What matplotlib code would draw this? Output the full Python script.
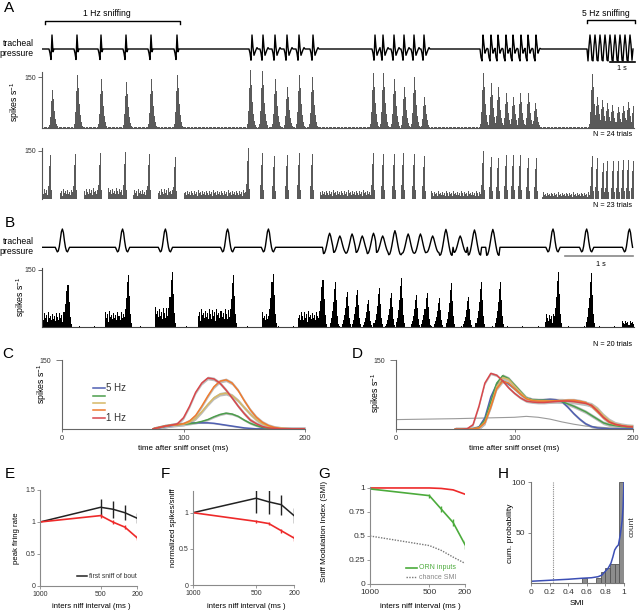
import matplotlib
matplotlib.use("Agg")
import matplotlib.pyplot as plt
import numpy as np

plt.rcParams['font.family'] = ['Liberation Sans', 'DejaVu Sans']
plt.rcParams['mathtext.default'] = 'regular'
plt.rcParams['axes.linewidth'] = 0.8

W, H = 640, 615

# ---------------- panel A: tracheal pressure (peak times, s) ----------------
A_SNIFF_1HZ = [0.40, 1.40, 2.36, 3.36, 4.36, 5.40]
A_SNIFF_2HZ = [8.40, 8.84, 9.32, 9.80, 10.28, 10.84]
A_SNIFF_3HZ = [13.32, 13.64, 14.08, 14.48, 14.88, 15.28]
A_SNIFF_4HZ = [17.64, 17.96, 18.24, 18.56, 18.84, 19.16, 19.44, 19.76]
A_SNIFF_5HZ = [21.92, 22.12, 22.32, 22.52, 22.72, 22.92, 23.12, 23.32, 23.52]
# waveform samples around each peak (0.04 s apart, peak at index 2)
A_WAVE_SLOW = [-0.3, -0.75, 1.0, -0.2, 0.0]
A_WAVE_MID = [-0.3, -0.8, 1.0, 0.1, -0.45, -0.25, -0.05, 0.1, 0.0]
A_WAVE_FAST = [-0.6, -0.85, 1.0, 0.3, -0.3, -0.1, 0.05]
A_WAVE_5HZ = [-0.85, 0.2, 1.0, 0.3, -0.8]

# panel A, PSTH cell 1 (spikes/s)
A1_PEAK_T = [0.40, 1.40, 2.36, 3.36, 4.36, 5.40,
             8.32, 8.80, 9.32, 9.80, 10.28, 10.80,
             13.24, 13.64, 14.08, 14.48, 14.88, 15.28,
             17.64, 17.96, 18.24, 18.56, 18.84, 19.12, 19.44, 19.72,
             22.00, 22.20, 22.40, 22.60, 22.80, 23.04, 23.24, 23.44, 23.64]
A1_PEAK_H = [113, 157, 145, 136, 146, 157,
             171, 168, 145, 122, 157, 152,
             163, 163, 145, 122, 150, 93,
             162, 132, 121, 103, 93, 103, 103, 74,
             161, 93, 83, 74, 69, 64, 66, 78, 66]
A1_SHAPE = [0.08, 0.3, 0.7, 1.0, 0.75, 0.45, 0.25, 0.12, 0.05]

# panel A, PSTH cell 2
A2_PEAK_T = [0.32, 1.32, 2.32, 3.32, 4.28, 5.32,
             8.24, 8.80, 9.28, 9.80, 10.28, 10.80,
             13.24, 13.64, 14.08, 14.44, 14.88, 15.28,
             17.64, 17.96, 18.24, 18.56, 18.84, 19.12, 19.44, 19.76,
             22.00, 22.20, 22.44, 22.60, 22.84, 23.04, 23.24, 23.44, 23.64]
A2_PEAK_H = [137, 140, 143, 146, 141, 131,
             158, 143, 133, 138, 143, 141,
             144, 141, 141, 143, 141, 133,
             150, 131, 128, 136, 136, 136, 128, 126,
             133, 126, 112, 117, 117, 117, 121, 121, 117]
A2_SHAPE = [0.3, 0.75, 1.0, 0.2]
A2_PLATEAUS = [(0.0, 0.25, 24), (0.7, 1.25, 22), (1.7, 2.25, 24), (2.65, 3.25, 25),
               (3.65, 4.2, 22), (4.65, 5.25, 24), (5.7, 8.15, 20), (11.1, 13.15, 20),
               (15.55, 17.55, 18), (20.0, 21.9, 15)]

# panel B
B_SNIFF_SLOW = [0.294, 1.191, 1.809, 2.735, 3.324, 7.515, 8.015, 8.647]
B_SNIFF_FAST = [4.235, 4.382, 4.559, 4.706, 4.868, 5.015, 5.191, 5.382, 5.559,
                5.750, 5.941, 6.147, 6.353, 6.632]
B_FAST_AMP = [0.77, 0.62, 0.73, 0.62, 0.77, 0.62, 0.91, 0.73, 0.73, 0.62, 0.98,
              0.62, 0.95, 0.98]
B_WAVE_SLOW = [0, -0.12, -0.25, -0.2, 0.05, 0.45, 0.85, 1.0, 0.8, 0.35, 0.0,
               -0.2, -0.25, -0.12, 0]
B_WAVE_FAST = [-0.45, -0.4, -0.2, 0.1, 0.45, 0.8, 1.0, 0.8, 0.45, 0.1, -0.2, -0.4, -0.45]

B_PEAK_T = [0.382, 1.265, 1.912, 2.809, 3.397,
            4.132, 4.309, 4.485, 4.632, 4.794, 4.956, 5.132, 5.279, 5.500, 5.662,
            5.838, 6.015, 6.265, 6.456, 6.735, 7.588, 8.074]
B_PEAK_H = [111, 138, 145, 136, 140,
            124, 119, 93, 98, 71, 102, 89, 128, 85, 89,
            76, 115, 80, 119, 119, 144, 141]
B_SHAPE = [0.1, 0.2, 0.35, 0.55, 0.85, 1.0, 0.6, 0.25, 0.08]
B_PLATEAUS = [(0.0, 0.34, 28), (0.93, 1.22, 30), (1.66, 1.85, 38), (2.29, 2.75, 35),
              (3.24, 3.35, 28), (3.76, 4.09, 30), (7.40, 7.54, 25), (8.53, 8.71, 12)]

TEXTURE = [1.0, 0.65, 1.3, 0.85, 1.15, 0.5, 1.4, 0.9, 1.1, 0.7, 1.25, 0.8, 1.05, 0.6, 1.35]

# ---------------- panels C, D: average sniff-triggered rates ----------------
C_LABELS = ['5 Hz', '', '', '', '1 Hz']
C_COLORS = ['#4f5fb3', '#4c9e4c', '#d6b866', '#f07b2e', '#d8474b']
T_C = [75, 80, 85, 90, 95, 100, 105, 110, 115, 120, 125, 130, 135, 140, 145, 150,
       155, 160, 165, 170, 175, 180, 190, 200]
C_BLUE = [1, 3, 6, 8, 10, 12, 13, 14, 14, 14, 13, 11, 9, 7, 5, 3, 2, 1, 1, 0, 0, 0, 0, 0]
C_GREEN = [1, 4, 7, 9, 10, 11, 12, 14, 17, 21, 27, 32, 35, 33, 28, 20, 13, 8, 4, 2, 1, 1, 1, 1]
C_GOLD = [1, 4, 7, 9, 10, 11, 15, 24, 38, 54, 68, 76, 78, 73, 62, 47, 33, 21, 12, 6, 3, 2, 1, 1]
C_ORANGE = [1, 4, 7, 9, 10, 12, 18, 30, 50, 72, 92, 104, 107, 100, 84, 62, 42, 26, 15, 8, 4, 2, 1, 1]
C_RED = [1, 4, 7, 9, 12, 25, 50, 80, 100, 111, 109, 100, 85, 68, 50, 34, 20, 12, 6, 3, 2, 1, 1, 1]
C_SEM = [1.5, 2.5, 4, 4, 4]

T_D = [50, 55, 60, 65, 70, 75, 80, 85, 90, 95, 100, 105, 110, 115, 120, 125, 130, 135,
       140, 145, 150, 155, 160, 165, 170, 175, 180, 185, 190, 195, 200]
D_BLUE = [0, 0, 0, 1, 5, 25, 70, 98, 105, 98, 88, 77, 67, 64, 63, 64, 65, 64, 60, 48,
          34, 22, 12, 6, 3, 2, 1, 1, 1, 1, 1]
D_GREEN = [0, 0, 0, 1, 4, 20, 60, 100, 116, 110, 96, 82, 68, 64, 63, 63, 62, 61, 60, 55,
           50, 44, 38, 30, 22, 14, 10, 8, 6, 5, 5]
D_GOLD = [0, 0, 0, 1, 3, 15, 50, 92, 112, 108, 94, 80, 67, 63, 62, 62, 62, 62, 62, 61,
          60, 58, 56, 53, 44, 30, 19, 12, 9, 7, 6]
D_ORANGE = [0, 0, 0, 1, 3, 14, 48, 88, 104, 100, 88, 76, 66, 62, 61, 61, 61, 62, 62, 63,
            63, 61, 58, 50, 38, 25, 15, 10, 8, 6, 6]
D_RED = [0, 0, 1, 10, 50, 100, 121, 117, 105, 90, 78, 68, 61, 59, 58, 58, 59, 60, 61, 61,
         60, 58, 56, 52, 40, 26, 16, 11, 8, 6, 5]
D_SEM = [3, 4, 5, 4, 3]
T_D_GRAY = [0, 50, 100, 110, 120, 130, 140, 150, 160, 170, 180, 190, 200]
D_GRAY = [21, 23, 26, 28, 26, 22, 16, 11, 7, 5, 3, 2, 2]

# ---------------- panels E-H ----------------
ISI = [1000, 500, 400, 300, 200]
E_RED = [1.0, 1.10, 1.0, 0.92, 0.755]
E_RED_ERR = [0, 0.03, 0.03, 0.03, 0.04]
E_BLACK = [1.0, 1.23, 1.20, 1.145, 1.06]
E_BLACK_ERR = [0, 0.13, 0.13, 0.12, 0.08]

F_RED = [1.0, 0.88, 0.85, 0.75, 0.65]
F_RED_ERR = [0, 0.02, 0.02, 0.03, 0.04]
F_BLACK = [1.0, 1.2, 1.15, 1.11, 0.96]
F_BLACK_ERR = [0, 0.2, 0.17, 0.14, 0.1]

G_RED = [1.0, 1.0, 0.995, 0.98, 0.935]
G_GREEN = [0.99, 0.92, 0.78, 0.64, 0.41]
G_GREEN_ERR = [0, 0.02, 0.03, 0.04, 0.05]
G_CHANCE = [0.50, 0.40, 0.35, 0.28, 0.215]

H_BIN_LEFT = [0.55, 0.70, 0.75, 0.80, 0.85, 0.90, 0.95]
H_COUNT = [5, 5, 11, 15, 19, 19, 100]
H_CDF_X = [0, 0.2, 0.4, 0.55, 0.65, 0.72, 0.76, 0.80, 0.83, 0.86, 0.88, 0.90, 0.92,
           0.94, 0.96, 0.98, 0.99, 1.0]
H_CDF_Y = [2, 3, 4, 5, 5.5, 6.5, 8, 12, 15, 20, 26, 33, 36, 38, 48, 62, 75, 100]
H_CHANCE = 0.24


# ---------------- helpers ----------------
def build_trace(t_end, dt, bouts):
    n = int(round(t_end / dt))
    v = np.zeros(n)
    for times, wave, center, amps in bouts:
        for t, a in zip(times, amps):
            i = int(round(t / dt))
            for k, w in enumerate(wave):
                j = i + k - center
                if 0 <= j < n:
                    v[j] = a * w
    return np.arange(n) * dt, v


def build_psth(t_end, dt, base, plateaus, peaks_t, peaks_h, shape, center):
    n = int(round(t_end / dt))
    tex = np.resize(np.array(TEXTURE), n)
    v = base * tex
    for s, e, lvl in plateaus:
        i0, i1 = int(round(s / dt)), int(round(e / dt))
        v[i0:i1] = lvl * tex[i0:i1]
    for t, h in zip(peaks_t, peaks_h):
        i = int(round(t / dt))
        for k, w in enumerate(shape):
            j = i + k - center
            if 0 <= j < n:
                v[j] = max(v[j], h * w)
    return np.arange(n) * dt, v


fig = plt.figure(figsize=(6.4, 6.15), dpi=100)


def px_axes(box):
    x0, y0, x1, y1 = box
    ax = fig.add_axes([x0 / W, 1 - y1 / H, (x1 - x0) / W, (y1 - y0) / H])
    ax.patch.set_visible(False)
    return ax


def label_at(ax, box, which, px, py):
    x0, y0, x1, y1 = box
    c = ((px - x0) / (x1 - x0), (y1 - py) / (y1 - y0))
    (ax.xaxis if which == 'x' else ax.yaxis).set_label_coords(*c)


def clean(ax, color='#777777', left=True, bottom=True):
    ax.spines['top'].set_visible(False)
    ax.spines['right'].set_visible(False)
    ax.spines['left'].set_visible(left)
    ax.spines['bottom'].set_visible(bottom)
    ax.spines['left'].set_color(color)
    ax.spines['bottom'].set_color(color)
    ax.tick_params(colors=color, labelcolor='#333333', width=0.6)


# ---- A: trace
A_END = 23.68
box = (42, 33, 634, 63)
ax = px_axes(box)
t, v = build_trace(A_END, 0.04, [
    (A_SNIFF_1HZ, A_WAVE_SLOW, 2, [1] * len(A_SNIFF_1HZ)),
    (A_SNIFF_2HZ, A_WAVE_MID, 2, [1] * len(A_SNIFF_2HZ)),
    (A_SNIFF_3HZ, A_WAVE_MID, 2, [1] * len(A_SNIFF_3HZ)),
    (A_SNIFF_4HZ, A_WAVE_FAST, 2, [1] * len(A_SNIFF_4HZ)),
    (A_SNIFF_5HZ, A_WAVE_5HZ, 2, [1] * len(A_SNIFF_5HZ)),
])
ax.plot(t, v, color='black', lw=1.0)
ax.set_xlim(0, A_END)
ax.set_ylim(-1.0, 1.143)
ax.axis('off')

# ---- A: PSTHs
for box, data, color, bottom, ymax in [
        ((42, 72, 634, 128.3),
         build_psth(A_END, 0.04, 3, [], A1_PEAK_T, A1_PEAK_H, A1_SHAPE, 3),
         '#5a5a5a', True, 165.6),
        ((42, 148, 634, 199.3),
         build_psth(A_END, 0.04, 0, A2_PLATEAUS, A2_PEAK_T, A2_PEAK_H, A2_SHAPE, 2),
         '#5a5a5a', False, 158.3)]:
    ax = px_axes(box)
    ax.bar(data[0], data[1], width=0.04, align='edge', color=color, linewidth=0,
           clip_on=False)
    ax.set_xlim(0, A_END)
    ax.set_ylim(0, ymax)
    clean(ax, '#555555', bottom=bottom)
    ax.set_yticks([150])
    ax.set_xticks([])
    ax.tick_params(axis='y', labelsize=5, length=3, pad=1.5)
    if box[1] == 72:
        ax.set_ylabel('spikes s$^{-1}$', fontsize=6.3)
        label_at(ax, box, 'y', 22, 102)

# ---- B: trace
B_END = 8.706
box = (42, 225, 634, 258)
ax = px_axes(box)
t, v = build_trace(B_END, 0.015, [
    (B_SNIFF_FAST, B_WAVE_FAST, 6, B_FAST_AMP),
    (B_SNIFF_SLOW, B_WAVE_SLOW, 7, [1] * len(B_SNIFF_SLOW)),
])
ax.plot(t, v, color='black', lw=1.0)
ax.set_xlim(0, B_END)
ax.set_ylim(-0.585, 1.22)
ax.axis('off')

# ---- B: PSTH
box = (42, 268, 634, 327.3)
ax = px_axes(box)
tb, vb = build_psth(B_END, 0.015, 1.5, B_PLATEAUS, B_PEAK_T, B_PEAK_H, B_SHAPE, 5)
ax.bar(tb, vb, width=0.015, align='edge', color='black', linewidth=0, clip_on=False)
ax.set_xlim(0, B_END)
ax.set_ylim(0, 155.2)
clean(ax, '#444444')
ax.set_yticks([150])
ax.set_xticks([])
ax.tick_params(axis='y', labelsize=5, length=3, pad=1.5)
ax.set_ylabel('spikes s$^{-1}$', fontsize=6.3)
label_at(ax, box, 'y', 28, 297)

# ---- C and D
band = '#bdbdbd'
for box, T, curves, sems, label_px in [
        ((62, 360, 305, 429.3), T_C, [C_BLUE, C_GREEN, C_GOLD, C_ORANGE, C_RED], C_SEM, (49, 384)),
        ((396, 360, 633, 429.3), T_D, [D_BLUE, D_GREEN, D_GOLD, D_ORANGE, D_RED], D_SEM, (383, 393))]:
    ax = px_axes(box)
    if box[0] == 396:
        ax.plot(T_D_GRAY, D_GRAY, color='#9a9a9a', lw=0.8)
    for y, s, c in zip(curves, sems, C_COLORS):
        y = np.array(y, dtype=float)
        ax.fill_between(T, y - s, y + s, color=band, lw=0)
    for y, c in zip(curves, C_COLORS):
        ax.plot(T, y, color=c, lw=1.1)
    ax.set_xlim(0, 200)
    ax.set_ylim(0, 150)
    clean(ax, '#666666')
    ax.set_yticks([150])
    ax.set_xticks([0, 100, 200])
    ax.tick_params(axis='y', labelsize=5, length=4, pad=4)
    ax.tick_params(axis='x', labelsize=5.5, length=2, pad=2)
    ax.set_xlabel('time after sniff onset (ms)', fontsize=5.8)
    label_at(ax, box, 'x', (box[0] + box[2]) / 2, 445)
    ax.set_ylabel('spikes s$^{-1}$', fontsize=6.3)
    label_at(ax, box, 'y', *label_px)


# ---- E, F, G
def isi_axes(box, ylim, yticks, yticklabels, ylabel, ylabel_px, tick_fs, label_fs):
    ax = px_axes(box)
    ax.set_xlim(1000, 200)
    ax.set_ylim(*ylim)
    clean(ax, '#8a8a8a')
    ax.set_xticks([1000, 500, 200])
    ax.set_yticks(yticks)
    ax.set_yticklabels(yticklabels)
    ax.tick_params(labelsize=tick_fs, length=2, pad=1.5)
    ax.set_xlabel('inters niff interval (ms )', fontsize=label_fs)
    label_at(ax, box, 'x', (box[0] + box[2]) / 2 + 3, 603)
    ax.set_ylabel(ylabel, fontsize=label_fs)
    label_at(ax, box, 'y', *ylabel_px)
    return ax


box = (40, 490, 137, 586)
ax = isi_axes(box, (0, 1.5), [0, 0.5, 1, 1.5], ['0', '0.5', '1', '1.5'],
              'peak firing rate', (20, 538), 5, 5.6)
ax.errorbar(ISI, E_BLACK, yerr=E_BLACK_ERR, color='#222222', lw=1.1, elinewidth=1.0,
            capsize=0)
ax.errorbar(ISI, E_RED, yerr=E_RED_ERR, color='#ee2a2a', lw=1.2, elinewidth=1.0,
            capsize=0)

box = (193, 491, 294, 585)
ax = isi_axes(box, (0, 1.3), [0, 0.5, 1], ['0', '0.5', '1'],
              'normalized spikes/sniff', (177, 528), 5, 5.6)
ax.errorbar(ISI, F_BLACK, yerr=F_BLACK_ERR, color='#222222', lw=1.1, elinewidth=1.0,
            capsize=0)
ax.errorbar(ISI, F_RED, yerr=F_RED_ERR, color='#ee2a2a', lw=1.2, elinewidth=1.0,
            capsize=0)

box = (370, 487, 465, 584)
ax = isi_axes(box, (0, 1.01), [0, 0.25, 0.5, 0.75, 1], ['0', '0.25', '0.5', '0.75', '1'],
              'Sniff Modulation Index (SMI)', (328, 531), 6, 5.8)
ax.plot(ISI, G_CHANCE, color='#777777', lw=1.0, ls=(0, (1, 1)))
ax.plot(ISI, G_RED, color='#ee2a2a', lw=1.2)
ax.errorbar(ISI, G_GREEN, yerr=G_GREEN_ERR, color='#4cab3c', lw=1.2, elinewidth=1.0,
            capsize=0)

# ---- H
box = (531, 482.3, 624, 583.3)
ax = px_axes(box)
ax.bar(H_BIN_LEFT, H_COUNT, width=0.05, align='edge', color='#8c8c8c',
       edgecolor='#555555', lw=0.6)
ax.axvline(H_CHANCE, color='#888888', lw=0.8, ls=(0, (1, 1)))
ax.plot(H_CDF_X, H_CDF_Y, color='#3c4fb5', lw=1.1)
ax.set_xlim(0, 1)
ax.set_ylim(0, 100)
clean(ax, '#777777')
ax.set_xticks([0, 0.2, 0.4, 0.6, 0.8, 1])
ax.set_xticklabels(['0', '0.2', '0.4', '0.6', '0.8', '1'])
ax.set_yticks([50, 100])
ax.tick_params(labelsize=6, length=2, pad=2)
ax.set_xlabel('SMI', fontsize=6)
label_at(ax, box, 'x', 577, 600)
ax.set_ylabel('cum. probability', fontsize=6)
label_at(ax, box, 'y', 514, 533)

# ---------------- annotations ----------------
ov = fig.add_axes([0, 0, 1, 1])
ov.patch.set_visible(False)
ov.set_xlim(0, W)
ov.set_ylim(H, 0)
ov.axis('off')

for s, x, y in [('A', 9, 8), ('B', 10, 223), ('C', 8, 354), ('D', 357, 354),
                ('E', 10, 474), ('F', 165, 474), ('G', 324, 474), ('H', 503, 474)]:
    ov.text(x, y, s, fontsize=11, ha='center', va='center')

ov.text(34, 48.5, 'tracheal\npressure', fontsize=6.2, ha='right', va='center',
        linespacing=1.15)
ov.text(34, 246.5, 'tracheal\npressure', fontsize=6.2, ha='right', va='center',
        linespacing=1.15)

ov.plot([45, 45, 180, 180], [23.5, 20.7, 20.7, 23.5], color='black', lw=1.0)
ov.text(107, 13.5, '1 Hz sniffing', fontsize=6.2, ha='center', va='center')
ov.plot([587, 587, 635, 635], [22.5, 20, 20, 22.5], color='black', lw=1.0)
ov.text(606, 13, '5 Hz sniffing', fontsize=6.2, ha='center', va='center')

ov.plot([610, 635], [61.5, 61.5], color='black', lw=1.2)
ov.text(622, 68.5, '1 s', fontsize=5.2, ha='center', va='center')
ov.plot([565, 633], [256, 256], color='#888888', lw=1.2)
ov.text(601, 265, '1 s', fontsize=5.2, ha='center', va='center')

ov.text(632, 134.5, 'N = 24 trials', fontsize=5.2, ha='right', va='center')
ov.text(632, 205.5, 'N = 23 trials', fontsize=5.2, ha='right', va='center')
ov.text(632, 345, 'N = 20 trials', fontsize=5.2, ha='right', va='center')

# legend C
for i, (lab, c) in enumerate(zip(C_LABELS, C_COLORS)):
    y = 388.3 + i * 7.35
    ov.plot([93, 105], [y, y], color=c, lw=1.1)
    if lab:
        ov.text(106, y, lab, fontsize=7, ha='left', va='center', color='#333333')

# legend E
ov.plot([77, 87], [576, 576], color='#222222', lw=1.1)
ov.text(89, 576, 'first sniff of bout', fontsize=4.9, ha='left', va='center',
        color='#333333')

# legend G
ov.plot([406, 417], [567.7, 567.7], color='#4cab3c', lw=1.2)
ov.text(419, 567.7, 'ORN inputs', fontsize=5, ha='left', va='center', color='#4cab3c')
ov.plot([406, 417], [577.3, 577.3], color='#777777', lw=1.0, ls=(0, (1, 1)))
ov.text(419, 577.3, 'chance SMI', fontsize=5, ha='left', va='center', color='#888888')

ov.text(632, 527, 'count', fontsize=6, rotation=90, ha='center', va='center',
        color='#333333')

fig.savefig('out.png', dpi=100)
